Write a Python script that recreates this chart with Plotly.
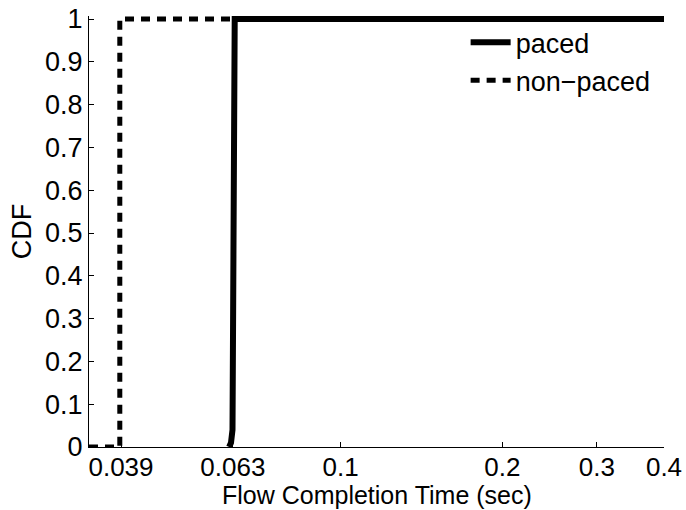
import math
import plotly.graph_objects as go

# Flow completion time CDF samples (seconds, cumulative fraction)
paced_time = [0.0620, 0.0625, 0.0629, 0.0630, 0.0631, 0.0635, 0.0635, 0.4]
paced_cdf = [0.0, 0.01, 0.04, 0.40, 0.88, 0.91, 1.0, 1.0]

nonpaced_time = [0.034, 0.0388, 0.0388, 0.4]
nonpaced_cdf = [0.0, 0.0, 1.0, 1.0]

x_tick_vals = [0.039, 0.063, 0.1, 0.2, 0.3, 0.4]
x_tick_text = ["0.039", "0.063", "0.1", "0.2", "0.3", "0.4"]
y_tick_vals = [i / 10 for i in range(11)]
y_tick_text = ["0", "0.1", "0.2", "0.3", "0.4", "0.5", "0.6", "0.7", "0.8", "0.9", "1"]

FONT = "Liberation Sans, Arial, Helvetica, sans-serif"

fig = go.Figure()
fig.add_trace(go.Scatter(
    x=nonpaced_time, y=nonpaced_cdf, mode="lines", name="non\u2212paced",
    line=dict(color="black", width=5, dash="9px,7px"),
))
fig.add_trace(go.Scatter(
    x=paced_time, y=paced_cdf, mode="lines", name="paced",
    line=dict(color="black", width=6),
))

axis_common = dict(
    showline=True, linecolor="black", linewidth=1,
    ticks="inside", ticklen=5, tickwidth=1, tickcolor="black",
    showgrid=False, zeroline=False, mirror=False, automargin=False,
)

fig.update_layout(
    width=686, height=510,
    margin=dict(l=89, r=22, t=16, b=63),
    paper_bgcolor="white", plot_bgcolor="white",
    font=dict(family=FONT, size=27, color="black"),
    showlegend=True,
    legend=dict(
        x=0.655, y=0.995, xanchor="left", yanchor="top",
        bgcolor="rgba(0,0,0,0)", borderwidth=0,
        traceorder="reversed",
        font=dict(family=FONT, size=27, color="black"),
        itemwidth=40,
        tracegroupgap=0,
    ),
    xaxis=dict(
        type="log",
        range=[math.log10(0.034), math.log10(0.4)],
        tickvals=x_tick_vals, ticktext=x_tick_text,
        tickfont=dict(family=FONT, size=26, color="black"),
        ticklabelstandoff=-3,
        **axis_common,
    ),
    yaxis=dict(
        range=[0, 1.007],
        tickvals=y_tick_vals, ticktext=y_tick_text,
        tickfont=dict(family=FONT, size=27, color="black"),
        title=dict(text="CDF", font=dict(family=FONT, size=27), standoff=5),
        **axis_common,
    ),
    annotations=[dict(
        text="Flow Completion Time (sec)",
        xref="paper", yref="paper", x=0.5, y=0,
        xanchor="center", yanchor="bottom", yshift=-63, borderpad=0,
        showarrow=False, font=dict(family=FONT, size=25, color="black"),
    )],
)

fig.write_html("out.html")
